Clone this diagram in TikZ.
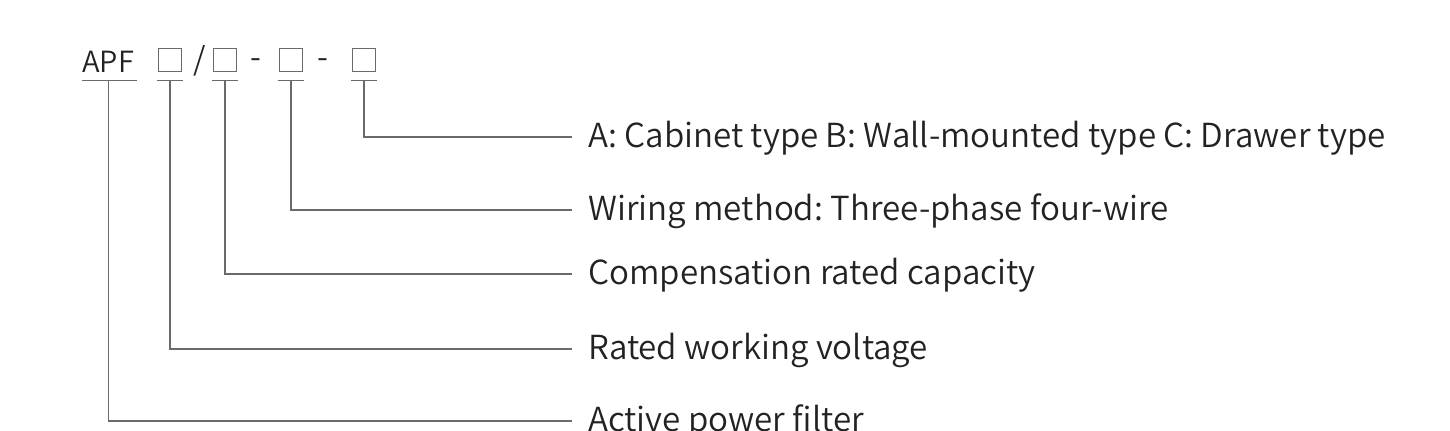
\documentclass[tikz,border=0pt]{standalone}
\usepackage{fontspec}
\setmainfont{Noto Sans CJK SC DemiLight}
\usetikzlibrary{positioning}
\definecolor{linegray}{HTML}{6A6A6A}
\definecolor{textgray}{HTML}{222222}
\frenchspacing

\begin{document}
\begin{tikzpicture}[x=0.02cm,y=-0.02cm,
    box/.style={draw=linegray,line width=0.7pt,minimum size=0.47cm,inner sep=0pt},
    lead/.style={draw=linegray,line width=0.6pt},
    sign/.style={inner sep=0pt,text=textgray,font=\fontsize{18}{21}\selectfont},
    desc/.style={anchor=west,inner xsep=0.32cm,inner ysep=0pt,text height=0.5cm,
      text depth=0.1cm,text=textgray,font=\fontsize{18.85}{23}\selectfont}]
   \useasboundingbox (0,0) rectangle (1450,430);
   \clip (0,0) rectangle (1450,430);
   % model code
   \node[sign,anchor=base west,font=\fontsize{16.6}{20}\selectfont] (apf) at (82,72) {APF};
   \node[box] (b1) at (170,60) {};
   \node[sign] (sl) at (200,61) {/};
   \node[box] (b2) at (225,60) {};
   \node[sign] (d1) at (256,64) {-};
   \node[box] (b3) at (291,60) {};
   \node[sign] (d2) at (323,64) {-};
   \node[box] (b4) at (364,60) {};
   % underlines
   \draw[lead] ([yshift=-0.16cm]apf.south west) -- ([xshift=0.06cm,yshift=-0.16cm]apf.south east);
   \foreach \b in {b1,b2,b3,b4}
     \draw[lead] ([xshift=-0.02cm,yshift=-0.16cm]\b.south west) -- ([xshift=0.02cm,yshift=-0.16cm]\b.south east);
   % descriptions
   \node[desc] (l4) at (572,137) {A: Cabinet type B: Wall-mounted type C: Drawer type};
   \node[desc] (l3) at (572,210) {Wiring method: Three-phase four-wire};
   \node[desc] (l2) at (572,274) {Compensation rated capacity};
   \node[desc] (l1) at (572,349) {Rated working voltage};
   \node[desc] (l0) at (572,421) {Active power filter};
   % leaders
   \draw[lead] ([yshift=-0.16cm]b4.south) |- (l4.west);
   \draw[lead] ([yshift=-0.16cm]b3.south) |- (l3.west);
   \draw[lead] ([yshift=-0.16cm]b2.south) |- (l2.west);
   \draw[lead] ([yshift=-0.16cm]b1.south) |- (l1.west);
   \draw[lead] ([yshift=-0.16cm]apf.south) |- (l0.west);
\end{tikzpicture}
\end{document}
